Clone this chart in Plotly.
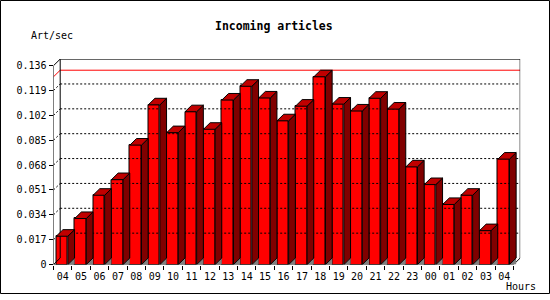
import plotly.graph_objects as go

# ---- data ----
hours = ["04", "05", "06", "07", "08", "09", "10", "11", "12", "13", "14", "15",
         "16", "17", "18", "19", "20", "21", "22", "23", "00", "01", "02", "03", "04"]
values = [0.0194, 0.0315, 0.0474, 0.0581, 0.0817, 0.1092, 0.0902, 0.1045, 0.0925,
          0.1125, 0.1219, 0.1139, 0.0983, 0.1083, 0.1284, 0.1097, 0.1050, 0.1137,
          0.1063, 0.0668, 0.0547, 0.0411, 0.0474, 0.0232, 0.0721]
ytick_vals = [0, 0.017, 0.034, 0.051, 0.068, 0.085, 0.102, 0.119, 0.136]
ytick_text = ["0", "0.017", "0.034", "0.051", "0.068", "0.085", "0.102", "0.119", "0.136"]

# ---- geometry (pixels) ----
W, H = 550, 300
N = len(values)
X_FRONT0 = 53.5
PXX = 460.0 / N
Y_ZERO = 270.0
YMAX = ytick_vals[-1]
PXY = 203.0 / YMAX
DX_PX, DY_PX = 6.7, 6.7
dxu = DX_PX / PXX
dyu = DY_PX / PXY
ytop = YMAX + dyu
xright = N + dxu
BAR_L, BAR_R = 0.15, 0.78

FONT = "DejaVu Sans Mono"

fig = go.Figure()

def line_trace(xs, ys, color="black", dash=None, width=1):
    fig.add_trace(go.Scatter(x=xs, y=ys, mode="lines",
                             line=dict(color=color, width=width, dash=dash),
                             hoverinfo="skip", showlegend=False, cliponaxis=False))

# grid (dotted) on back plane and slanted ticks on left wall
gx, gy = [], []
for t in ytick_vals[1:-1]:
    gx += [dxu, xright, None, 0, dxu, None]
    gy += [t + dyu, t + dyu, None, t, t + dyu, None]
line_trace(gx, gy, dash="2px,2px")

# max line (red)
vmax = max(values)
line_trace([0, dxu, xright], [vmax, vmax + dyu, vmax + dyu], color="#ff0000")

# frame
line_trace([dxu, dxu, xright, xright, N, 0, 0, dxu],
           [dyu, ytop, ytop, dyu, 0, 0, YMAX, ytop])
line_trace([0, dxu], [0, dyu])

# floor shadow triangles, side faces, top faces
tx, ty, sx, sy, px_, py_ = [], [], [], [], [], []
for i, v in enumerate(values):
    xl, xr = i + BAR_L, i + BAR_R
    tx += [xr, xr + dxu, xr + dxu, xr, None]
    ty += [0, dyu, 0, 0, None]
    sx += [xr, xr + dxu, xr + dxu, xr, xr, None]
    sy += [0, dyu, v + dyu, v, 0, None]
    px_ += [xl, xl + dxu, xr + dxu, xr, xl, None]
    py_ += [v, v + dyu, v + dyu, v, v, None]

fig.add_trace(go.Scatter(x=tx, y=ty, mode="lines", fill="toself", fillcolor="#808080",
                         line=dict(width=0, color="#808080"), hoverinfo="skip",
                         showlegend=False, cliponaxis=False))
fig.add_trace(go.Scatter(x=sx, y=sy, mode="lines", fill="toself", fillcolor="#800000",
                         line=dict(width=1, color="black"), hoverinfo="skip",
                         showlegend=False, cliponaxis=False))
fig.add_trace(go.Scatter(x=px_, y=py_, mode="lines", fill="toself", fillcolor="#c00000",
                         line=dict(width=1, color="black"), hoverinfo="skip",
                         showlegend=False, cliponaxis=False))

# front faces
fig.add_trace(go.Bar(x=[i + (BAR_L + BAR_R) / 2 for i in range(N)], y=values,
                     width=BAR_R - BAR_L,
                     marker=dict(color="#ff0000", line=dict(color="black", width=1)),
                     hoverinfo="skip", showlegend=False, cliponaxis=False))

x_dom = [X_FRONT0 / W, (X_FRONT0 + xright * PXX) / W]
y_dom = [(H - Y_ZERO) / H, (H - (Y_ZERO - ytop * PXY)) / H]

fig.update_layout(
    width=W, height=H,
    margin=dict(l=0, r=0, t=0, b=0, pad=0),
    paper_bgcolor="white", plot_bgcolor="white",
    font=dict(family=FONT, size=10, color="black"),
    bargap=0,
    xaxis=dict(domain=x_dom, range=[0, xright], showgrid=False, zeroline=False,
               showline=False, tickmode="array",
               tickvals=[i + 0.5 for i in range(N)], ticktext=hours,
               ticks="outside", ticklen=2, tickcolor="rgba(0,0,0,0)",
               tickfont=dict(family=FONT, size=10),
               minor=dict(tickmode="linear", tick0=0, dtick=1, ticks="outside",
                          ticklen=4, tickcolor="black", showgrid=False)),
    yaxis=dict(domain=y_dom, range=[0, ytop], showgrid=False, zeroline=False,
               showline=False, tickmode="array", tickvals=ytick_vals,
               ticktext=ytick_text, ticks="outside", ticklen=4, tickcolor="black",
               tickfont=dict(family=FONT, size=10)),
    shapes=[dict(type="rect", xref="paper", yref="paper",
                 x0=0.5 / W, x1=(W - 0.5) / W, y0=0.5 / H, y1=(H - 0.5) / H,
                 line=dict(color="black", width=1))],
    annotations=[
        dict(text="<b>Incoming articles</b>", xref="paper", yref="paper",
             x=273.8 / W, y=1 - 26.7 / H, xanchor="center", yanchor="middle",
             showarrow=False, font=dict(family=FONT, size=11.5)),
        dict(text="Art/sec", xref="paper", yref="paper",
             x=29 / W, y=1 - 36.7 / H, xanchor="left", yanchor="middle",
             showarrow=False, font=dict(family=FONT, size=10)),
        dict(text="Hours", xref="paper", yref="paper",
             x=504 / W, y=1 - 292.5 / H, xanchor="left", yanchor="middle",
             showarrow=False, font=dict(family=FONT, size=10)),
    ],
)

fig.write_html("out.html")
